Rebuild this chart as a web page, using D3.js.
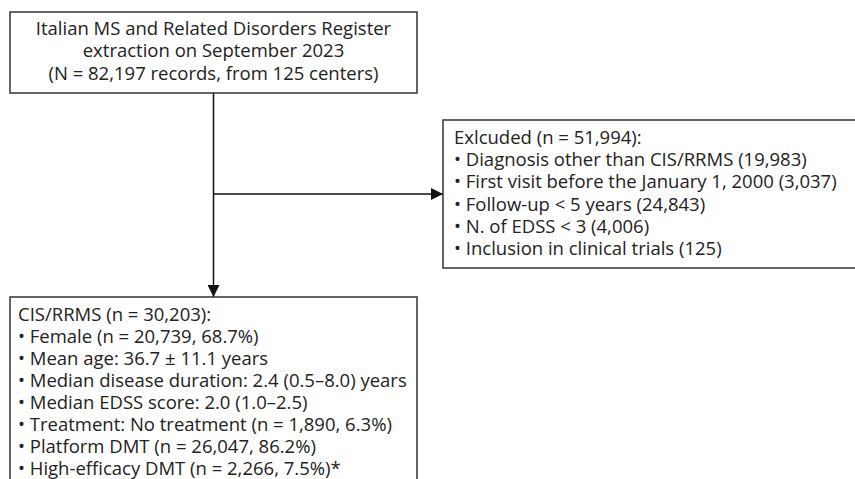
<!DOCTYPE html>
<html>
<head>
<meta charset="utf-8">
<script src="https://cdn.jsdelivr.net/npm/d3@7"></script>
<style>
  body { margin: 0; background: #fff; }
  text { font-family: "Open Sans", sans-serif; fill: #222; }
</style>
</head>
<body>
<div id="chart"></div>
<script>
// Flowchart content
// =================
var sourceLines = [
    "Italian MS and Related Disorders Register",
    "extraction on September 2023",
    "(N = 82,197 records, from 125 centers)"
];

var excludedTitle = "Exlcuded (n = 51,994):";
var excludedItems = [
    "Diagnosis other than CIS/RRMS (19,983)",
    "First visit before the January 1, 2000 (3,037)",
    "Follow-up < 5 years (24,843)",
    "N. of EDSS < 3 (4,006)",
    "Inclusion in clinical trials (125)"
];

var cohortTitle = "CIS/RRMS (n = 30,203):";
var cohortItems = [
    "Female (n = 20,739, 68.7%)",
    "Mean age: 36.7 ± 11.1 years",
    "Median disease duration: 2.4 (0.5–8.0) years",
    "Median EDSS score: 2.0 (1.0–2.5)",
    "Treatment: No treatment (n = 1,890, 6.3%)",
    "Platform DMT (n = 26,047, 86.2%)",
    "High-efficacy DMT (n = 2,266, 7.5%)*"
];

// SVG setup
// =========
var svgWidth = 855;
var svgHeight = 479;
var fontSize = 18.5;

var svg = d3.select("#chart")
    .append("svg")
    .attr("width", svgWidth)
    .attr("height", svgHeight);

svg.append("defs").append("marker")
    .attr("id", "arrow")
    .attr("viewBox", "0 0 10 10")
    .attr("refX", 10)
    .attr("refY", 5)
    .attr("markerUnits", "userSpaceOnUse")
    .attr("markerWidth", 12)
    .attr("markerHeight", 12)
    .attr("orient", "auto")
    .append("path")
    .attr("d", "M0,0 L10,5 L0,10 Z")
    .attr("fill", "#111");

// Box layout
var topBox = { x: 10, y: 12, w: 407, h: 81 };
var rightBox = { x: 443, y: 120, w: 430, h: 148 };
var bottomBox = { x: 10, y: 297, w: 407, h: 200 };
var centerX = topBox.x + topBox.w / 2;

function drawBox(b) {
    svg.append("rect")
        .attr("x", b.x)
        .attr("y", b.y)
        .attr("width", b.w)
        .attr("height", b.h)
        .attr("fill", "#fff")
        .attr("stroke", "#333")
        .attr("stroke-width", 1.5);
}

// Connectors
// ==========
svg.append("line")
    .attr("x1", centerX).attr("y1", topBox.y + topBox.h)
    .attr("x2", centerX).attr("y2", bottomBox.y)
    .attr("stroke", "#111").attr("stroke-width", 1.5)
    .attr("marker-end", "url(#arrow)");

svg.append("line")
    .attr("x1", centerX).attr("y1", 194)
    .attr("x2", rightBox.x).attr("y2", 194)
    .attr("stroke", "#111").attr("stroke-width", 1.5)
    .attr("marker-end", "url(#arrow)");

drawBox(topBox);
drawBox(rightBox);
drawBox(bottomBox);

// Top box text (centered)
svg.append("g")
    .selectAll("text")
    .data(sourceLines)
    .enter()
    .append("text")
    .attr("x", centerX)
    .attr("y", (d, i) => topBox.y + 22.5 + i * 22.8)
    .attr("text-anchor", "middle")
    .attr("font-size", fontSize)
    .text(d => d);

// Bulleted list helper
function drawList(b, title, items, padX, lineH) {
    var g = svg.append("g");
    g.append("text")
        .attr("x", b.x + padX)
        .attr("y", b.y + 24)
        .attr("font-size", fontSize)
        .text(title);

    g.selectAll(".row")
        .data(items)
        .enter()
        .append("text")
        .attr("class", "row")
        .attr("x", b.x + padX)
        .attr("y", (d, i) => b.y + 24 + (i + 1) * lineH)
        .attr("font-size", fontSize)
        .attr("xml:space", "preserve")
        .text(d => "• " + d);
}

drawList(rightBox, excludedTitle, excludedItems, 11, 22.2);
drawList(bottomBox, cohortTitle, cohortItems, 8, 22);
</script>
</body>
</html>
